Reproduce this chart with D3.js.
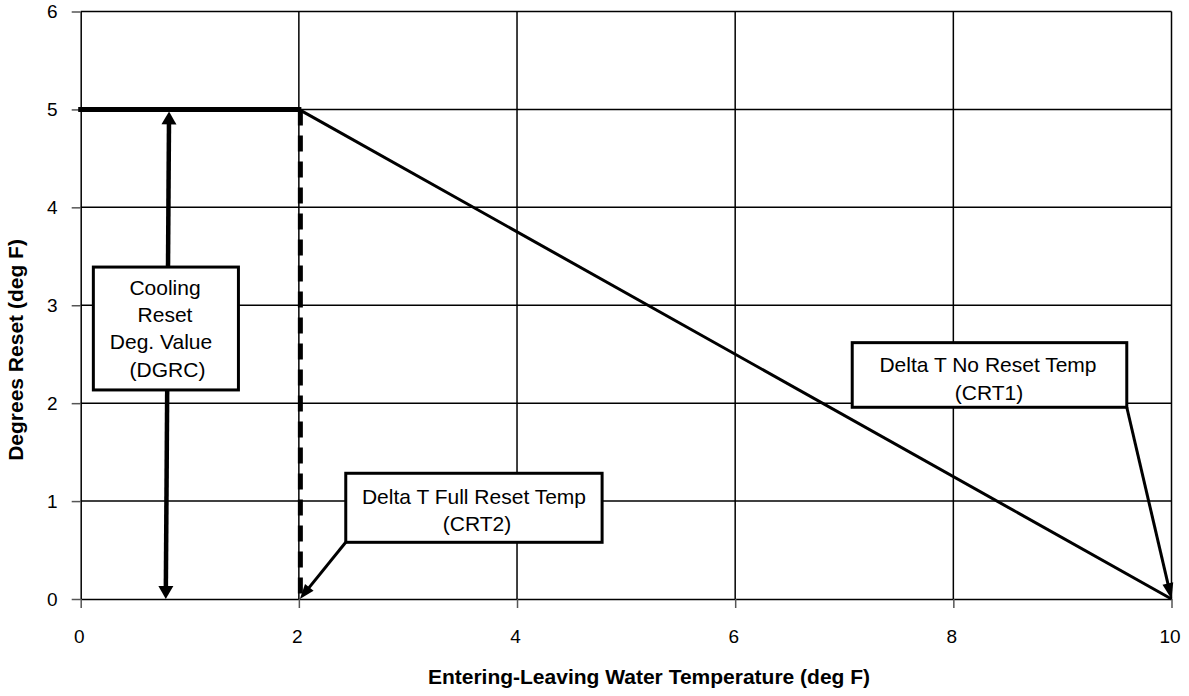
<!DOCTYPE html>
<html>
<head>
<meta charset="utf-8">
<script src="https://cdn.jsdelivr.net/npm/d3@7"></script>
<style>
  html, body { margin: 0; padding: 0; background: #fff; }
  svg { display: block; font-family: "Liberation Sans", Arial, sans-serif; }
</style>
</head>
<body>
<svg id="chart" width="1189" height="696"></svg>
<script>
// ---- data ----
const xTicks = [0, 2, 4, 6, 8, 10];
const yTicks = [0, 1, 2, 3, 4, 5, 6];
const flatX = [0, 2];
const flatY = [5, 5];
const rampX = [2, 10];
const rampY = [5, 0];
const fullResetX = [2, 2];
const fullResetY = [5, 0];
const dgrcArrowX = [0.81, 0.78];
const dgrcArrowY = [5, 0];
const xTitle = "Entering-Leaving Water Temperature (deg F)";
const yTitle = "Degrees Reset (deg F)";
const labelDGRC = ["Cooling", "Reset", "Deg. Value", "(DGRC)"];
const labelCRT2 = ["Delta T Full Reset Temp", "(CRT2)"];
const labelCRT1 = ["Delta T No Reset Temp", "(CRT1)"];

// ---- layout ----
const svg = d3.select("#chart");
const x = d3.scaleLinear().domain([0, 10]).range([80.7, 1171.5]);
const y = d3.scaleLinear().domain([0, 6]).range([599, 11.5]);
const tickFont = 19;
const noteFont = 21;
const titleFont = 21;

// gridlines
const grid = svg.append("g").attr("stroke", "#000").attr("stroke-width", 1.5);
grid.selectAll("line.v").data(xTicks.filter(d => d > 0)).join("line")
  .attr("x1", d => x(d)).attr("x2", d => x(d)).attr("y1", y(0)).attr("y2", y(6));
grid.selectAll("line.h").data(yTicks.filter(d => d > 0)).join("line")
  .attr("x1", x(0)).attr("x2", x(10)).attr("y1", d => y(d)).attr("y2", d => y(d));

// axes
const axL = svg.append("g").attr("transform", `translate(${x(0)},0)`)
  .call(d3.axisLeft(y).tickValues(yTicks).tickFormat(d3.format("d")).tickSize(9).tickPadding(14).tickSizeOuter(0));
const axB = svg.append("g").attr("transform", `translate(0,${y(0)})`)
  .call(d3.axisBottom(x).tickValues(xTicks).tickFormat(d3.format("d")).tickSize(9).tickPadding(22).tickSizeOuter(0));
[axL, axB].forEach(a => {
  a.selectAll("path.domain").attr("stroke", "#000").attr("stroke-width", 1.5);
  a.selectAll(".tick line").attr("stroke", "#555").attr("stroke-width", 1.5);
  a.selectAll(".tick text").attr("fill", "#000")
    .style("font-size", tickFont + "px").style("font-family", '"Liberation Sans", Arial, sans-serif');
});
axB.selectAll(".tick text").attr("dx", "-2");

// titles
svg.append("text").attr("x", 649).attr("y", 684).attr("text-anchor", "middle")
  .style("font-size", titleFont + "px").style("font-weight", "bold").text(xTitle);
svg.append("text").attr("transform", `translate(23,350) rotate(-90)`).attr("text-anchor", "middle")
  .style("font-size", titleFont + "px").style("font-weight", "bold").text(yTitle);

// data lines
const line = d3.line().x(d => x(d[0])).y(d => y(d[1]));
svg.append("path").datum(d3.zip(rampX, rampY)).attr("d", line)
  .attr("fill", "none").attr("stroke", "#000").attr("stroke-width", 3);
svg.append("path").datum(d3.zip(fullResetX, fullResetY)).attr("d", line)
  .attr("fill", "none").attr("stroke", "#000").attr("stroke-width", 5)
  .attr("stroke-dasharray", "16,10").attr("transform", "translate(1.5,0)");
svg.append("path").datum(d3.zip(flatX, flatY)).attr("d", line)
  .attr("fill", "none").attr("stroke", "#000").attr("stroke-width", 5).attr("stroke-linecap", "square");

// arrows
function arrowHead(tip, from, len, wid) {
  const dx = tip[0] - from[0], dy = tip[1] - from[1];
  const L = Math.hypot(dx, dy), ux = dx / L, uy = dy / L;
  const bx = tip[0] - ux * len, by = tip[1] - uy * len;
  const px = -uy * wid / 2, py = ux * wid / 2;
  svg.append("path")
    .attr("d", `M${tip[0]},${tip[1]}L${bx + px},${by + py}L${bx - px},${by - py}Z`)
    .attr("fill", "#000");
  return [bx + ux * 2, by + uy * 2];
}
function arrow(p0, p1, w, len, wid, both) {
  const e1 = arrowHead(p1, p0, len, wid);
  let e0 = p0;
  if (both) e0 = arrowHead(p0, p1, len, wid);
  svg.append("line").attr("x1", e0[0]).attr("y1", e0[1]).attr("x2", e1[0]).attr("y2", e1[1])
    .attr("stroke", "#000").attr("stroke-width", w);
}
// DGRC double arrow
arrow([x(dgrcArrowX[0]), y(dgrcArrowY[0]) + 2], [x(dgrcArrowX[1]), y(dgrcArrowY[1])], 4.5, 13, 15, true);

// boxes
function box(x0, y0, x1, y1, lines, centers, firstBase, lh) {
  const g = svg.append("g");
  g.append("rect").attr("x", x(x0)).attr("y", y(y0)).attr("width", x(x1) - x(x0)).attr("height", y(y1) - y(y0))
    .attr("fill", "#fff").attr("stroke", "#000").attr("stroke-width", 3);
  g.selectAll("text").data(lines).join("text")
    .attr("x", (d, i) => centers[i]).attr("y", (d, i) => y(y0) + firstBase + i * lh)
    .attr("text-anchor", "middle").style("font-size", noteFont + "px").text(d => d);
  return g;
}
box(0.116, 3.39, 1.446, 2.135, labelDGRC, [165, 165, 161, 167.5], 28, 27.2);

// CRT2 arrow + box
arrow([x(2.43), y(0.579)], [x(2) + 1, y(0)], 3, 15, 11, false);
box(2.43, 1.284, 4.78, 0.579, labelCRT2, [474, 477], 30.5, 27);

// CRT1 arrow + box
arrow([x(9.59), y(1.958)], [x(10), y(0)], 3, 16, 11, false);
box(7.073, 2.618, 9.59, 1.958, labelCRT1, [988, 989], 29, 28.3);
</script>
</body>
</html>
